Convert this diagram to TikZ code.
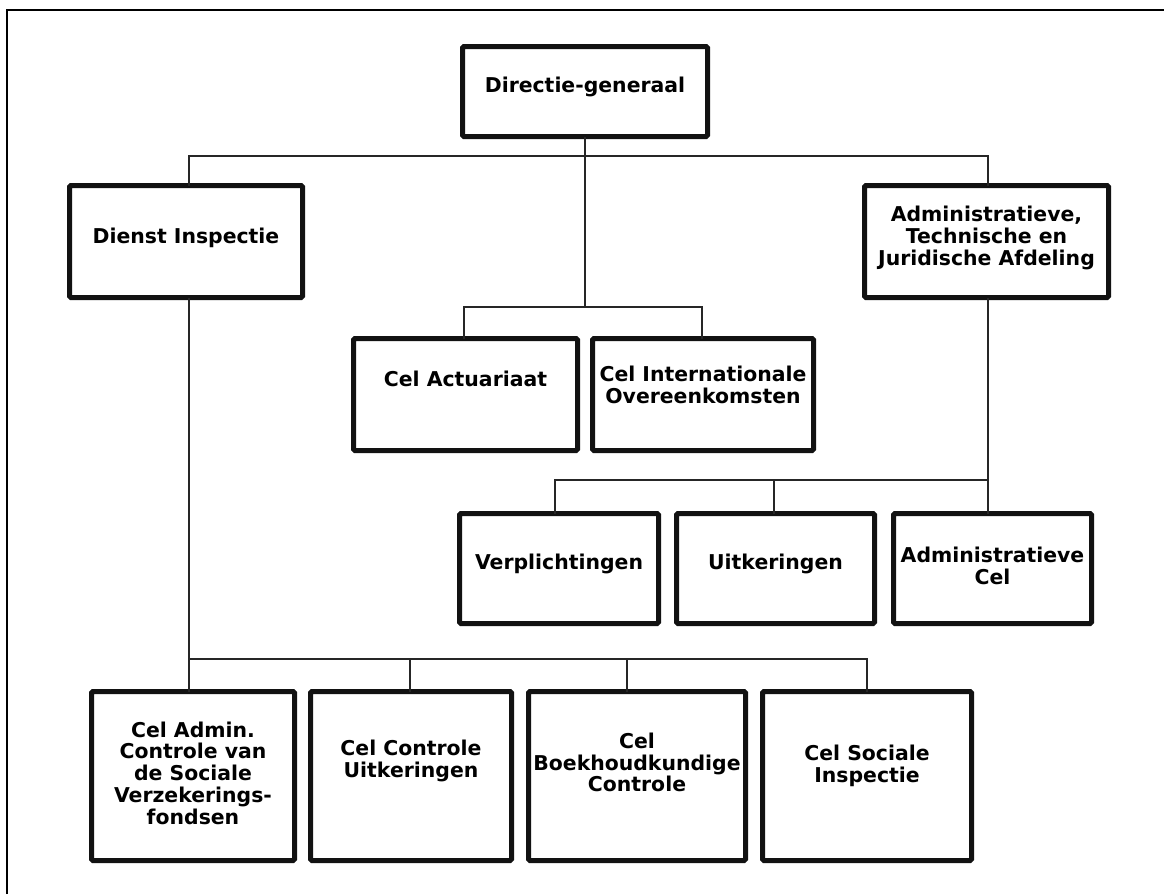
\documentclass[tikz,border=0pt]{standalone}
\usepackage{fontspec}
\setmainfont{DejaVu Sans}
\newcommand\boxtext[2]{\raisebox{#1}[\height][\depth]{\begin{tabular}{@{}c@{}}#2\end{tabular}}}
\begin{document}
\begin{tikzpicture}[x=1pt,y=-1pt,
  unit/.style={draw=black!93, line width=5pt, rounded corners=1.5pt, fill=white,
    inner sep=0pt, outer sep=0pt, align=center,
    font=\fontsize{20.4}{20.6}\selectfont\bfseries},
  link/.style={draw=black!85, line width=1.4pt},
  frame/.style={draw=black, line width=2.5pt}]
\useasboundingbox (0,0) rectangle (1164,894);
% frame (top and left edges)
\coordinate (fa) at (7,894);
\coordinate (fb) at (7,10);
\coordinate (fc) at (1164,10);
\draw[frame] (fa) -- (fb) -- (fc);

% boxes
\node[unit, minimum width=245pt, minimum height=90pt] (dg) at (585,91.5) {\boxtext{3.5pt}{Directie-generaal}};
\node[unit, minimum width=233pt, minimum height=112pt] (di) at (186,241.5) {\boxtext{2.5pt}{Dienst Inspectie}};
\node[unit, minimum width=244pt, minimum height=112pt] (ad) at (986.5,241.5) {\boxtext{2.5pt}{Administratieve,\\Technische en\\Juridische Afdeling}};
\node[unit, minimum width=224pt, minimum height=112pt] (ca) at (465.5,394.5) {\boxtext{12.5pt}{Cel Actuariaat}};
\node[unit, minimum width=221pt, minimum height=112pt] (ci) at (703,394.5) {\boxtext{6.5pt}{Cel Internationale\\Overeenkomsten}};
\node[unit, minimum width=199pt, minimum height=110pt] (vp) at (559,568.5) {\boxtext{3.5pt}{Verplichtingen}};
\node[unit, minimum width=198pt, minimum height=110pt] (ui) at (775.5,568.5) {\boxtext{3.5pt}{Uitkeringen}};
\node[unit, minimum width=198pt, minimum height=110pt] (ac) at (992.5,568.5) {\boxtext{0pt}{Administratieve\\Cel}};
\node[unit, minimum width=203pt, minimum height=169pt] (b1) at (193,776) {\boxtext{0pt}{Cel Admin.\\Controle van\\de Sociale\\Verzekerings-\\fondsen}};
\node[unit, minimum width=201pt, minimum height=169pt] (b2) at (411,776) {\boxtext{14.5pt}{Cel Controle\\Uitkeringen}};
\node[unit, minimum width=217pt, minimum height=169pt] (b3) at (637,776) {\boxtext{10.5pt}{Cel\\Boekhoudkundige\\Controle}};
\node[unit, minimum width=209pt, minimum height=169pt] (b4) at (867,776) {\boxtext{9pt}{Cel Sociale\\Inspectie}};

% bus coordinates
\coordinate (busB) at (585,307);
\coordinate (busC) at (988,480);
\coordinate (busD) at (189,659);

% top level
\draw[link] (dg.south) -- (busB);
\draw[link] (189,183 |- di.north) -- (189,156) -- (988,156) -- (988,183 |- ad.north);
% middle cells
\draw[link] (464,336 |- ca.north) -- (464,307) -- (702,307) -- (702,336 |- ci.north);
% afdeling cells
\draw[link] (988,300 |- ad.south) -- (busC) -- (988,511 |- ac.north);
\draw[link] (busC) -- (555,480) -- (555,511 |- vp.north);
\draw[link] (774,480) -- (774,511 |- ui.north);
% inspectie cells
\draw[link] (189,300 |- di.south) -- (busD) -- (189,689 |- b1.north);
\draw[link] (busD) -- (867,659) -- (867,689 |- b4.north);
\draw[link] (410,659) -- (410,689 |- b2.north);
\draw[link] (627,659) -- (627,689 |- b3.north);
\end{tikzpicture}
\end{document}
